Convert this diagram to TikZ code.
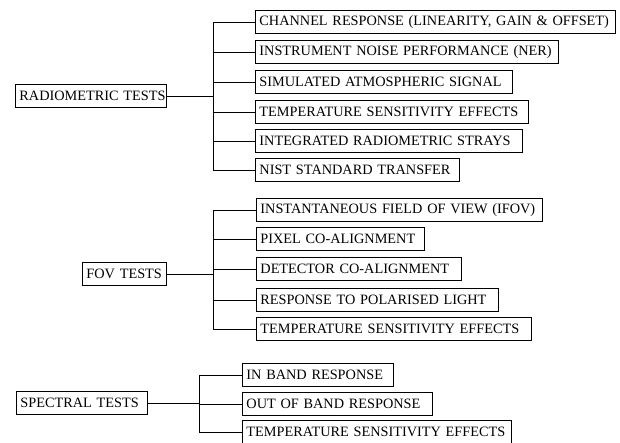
\documentclass[tikz,border=0pt]{standalone}
\usepackage{fontspec}
\setmainfont{Liberation Serif}

\begin{document}
\begin{tikzpicture}[x=0.03cm,y=-0.03cm,line width=0.75pt,
  test/.style={draw,anchor=west,inner xsep=0.12cm,minimum height=0.69cm,
    text width=#1,font=\fontsize{12.2}{14}\selectfont,
    execute at begin node={\hbox\bgroup},execute at end node={\egroup}}]
  \useasboundingbox (0,0) rectangle (620,442);

  \node[test=4.29cm](radio) at (15,96) {RADIOMETRIC TESTS};
  \coordinate (radiobus) at (213,96);
  \node[test=10.56cm](chan) at (255,22) {CHANNEL RESPONSE (LINEARITY, GAIN \& OFFSET)};
  \node[test=8.85cm](noise) at (255,52) {INSTRUMENT NOISE PERFORMANCE (NER)};
  \node[test=7.47cm](atmos) at (255,82) {SIMULATED ATMOSPHERIC SIGNAL};
  \node[test=7.95cm](radiotemp) at (255,112) {TEMPERATURE SENSITIVITY EFFECTS};
  \node[test=7.77cm](strays) at (255,141) {INTEGRATED RADIOMETRIC STRAYS};
  \node[test=5.88cm](nist) at (255,170) {NIST STANDARD TRANSFER};

  \node[test=2.28cm](fov) at (82,274) {FOV TESTS};
  \coordinate (fovbus) at (213,274);
  \node[test=8.34cm](ifov) at (256,210) {INSTANTANEOUS FIELD OF VIEW (IFOV)};
  \node[test=4.80cm](pixel) at (256,239) {PIXEL CO-ALIGNMENT};
  \node[test=5.91cm](detector) at (256,269) {DETECTOR CO-ALIGNMENT};
  \node[test=7.02cm](polar) at (256,300) {RESPONSE TO POLARISED LIGHT};
  \node[test=8.01cm](fovtemp) at (256,329) {TEMPERATURE SENSITIVITY EFFECTS};

  \node[test=3.69cm](spectral) at (16,403) {SPECTRAL TESTS};
  \coordinate (spectralbus) at (199,403);
  \node[test=4.29cm](inband) at (242,375) {IN BAND RESPONSE};
  \node[test=5.46cm](outband) at (242,404) {OUT OF BAND RESPONSE};
  \node[test=7.83cm](spectraltemp) at (242,432) {TEMPERATURE SENSITIVITY EFFECTS};

  \draw (radio.east) -- (radiobus)
    (radiobus) |- (chan.west) (radiobus) |- (noise.west)
    (radiobus) |- (atmos.west) (radiobus) |- (radiotemp.west)
    (radiobus) |- (strays.west) (radiobus) |- (nist.west);
  \draw (fov.east) -- (fovbus)
    (fovbus) |- (ifov.west) (fovbus) |- (pixel.west)
    (fovbus) |- (detector.west) (fovbus) |- (polar.west)
    (fovbus) |- (fovtemp.west);
  \draw (spectral.east) -- (spectralbus)
    (spectralbus) |- (inband.west) (spectralbus) |- (outband.west)
    (spectralbus) |- (spectraltemp.west);
\end{tikzpicture}
\end{document}
